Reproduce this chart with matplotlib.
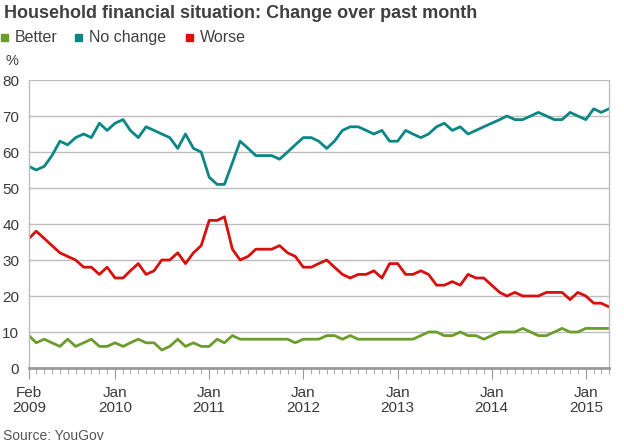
#!/usr/bin/env python3
"""Household financial situation: change over past month (YouGov)."""

import pandas as pd
import matplotlib
matplotlib.use("Agg")
import matplotlib.pyplot as plt
import matplotlib.dates as mdates
from matplotlib.patches import Rectangle

plt.rcParams['font.family'] = ['Liberation Sans', 'DejaVu Sans']

months = pd.date_range('2009-02-01', periods=75, freq='MS')

better = [
    9, 7, 8, 7, 6, 8, 6, 7, 8, 6, 6, 7,
    6, 7, 8, 7, 7, 5, 6, 8, 6, 7, 6, 6,
    8, 7, 9, 8, 8, 8, 8, 8, 8, 8, 7, 8,
    8, 8, 9, 9, 8, 9, 8, 8, 8, 8, 8, 8,
    8, 8, 9, 10, 10, 9, 9, 10, 9, 9, 8, 9,
    10, 10, 10, 11, 10, 9, 9, 10, 11, 10, 10, 11,
    11, 11, 11,
]
no_change = [
    56, 55, 56, 59, 63, 62, 64, 65, 64, 68, 66, 68,
    69, 66, 64, 67, 66, 65, 64, 61, 65, 61, 60, 53,
    51, 51, 57, 63, 61, 59, 59, 59, 58, 60, 62, 64,
    64, 63, 61, 63, 66, 67, 67, 66, 65, 66, 63, 63,
    66, 65, 64, 65, 67, 68, 66, 67, 65, 66, 67, 68,
    69, 70, 69, 69, 70, 71, 70, 69, 69, 71, 70, 69,
    72, 71, 72,
]
worse = [
    36, 38, 36, 34, 32, 31, 30, 28, 28, 26, 28, 25,
    25, 27, 29, 26, 27, 30, 30, 32, 29, 32, 34, 41,
    41, 42, 33, 30, 31, 33, 33, 33, 34, 32, 31, 28,
    28, 29, 30, 28, 26, 25, 26, 26, 27, 25, 29, 29,
    26, 26, 27, 26, 23, 23, 24, 23, 26, 25, 25, 23,
    21, 20, 21, 20, 20, 20, 21, 21, 21, 19, 21, 20,
    18, 18, 17,
]

tick_dates = pd.to_datetime(['2009-02-01', '2010-01-01', '2011-01-01', '2012-01-01',
                             '2013-01-01', '2014-01-01', '2015-01-01'])
tick_labels = ['Feb\n2009', 'Jan\n2010', 'Jan\n2011', 'Jan\n2012',
               'Jan\n2013', 'Jan\n2014', 'Jan\n2015']

GREEN = '#6c9d2c'
TEAL = '#0a8686'
RED = '#d7100e'
GRID = '#bdbdbd'
TEXT = '#404040'

fig = plt.figure(figsize=(6.24, 4.44), dpi=100)
ax = fig.add_axes([29 / 624, 76 / 444, 580 / 624, 288 / 444])

ax.plot(months, better, color=GREEN, linewidth=2)
ax.plot(months, no_change, color=TEAL, linewidth=2)
ax.plot(months, worse, color=RED, linewidth=2)

ax.set_xlim(months[0], months[-1])
ax.set_ylim(0, 80)
ax.set_yticks(range(0, 81, 10))
ax.yaxis.grid(True, color=GRID, linewidth=1)
ax.set_axisbelow(True)

ax.set_xticks(tick_dates)
ax.set_xticklabels(tick_labels)
ax.xaxis.set_minor_locator(mdates.MonthLocator())

for side in ['left', 'right']:
    ax.spines[side].set_color(GRID)
    ax.spines[side].set_linewidth(1)
ax.spines['top'].set_visible(False)
ax.spines['bottom'].set_color('#9a9a9a')
ax.spines['bottom'].set_linewidth(2)

ax.tick_params(axis='y', length=0, labelsize=11, labelcolor='#3a3a3a', pad=7)
ax.tick_params(axis='x', which='major', length=8, color='#9a9a9a',
               labelsize=11, labelcolor='#3a3a3a', pad=5)
ax.tick_params(axis='x', which='minor', length=4, color='#9a9a9a')
for lab in ax.get_xticklabels():
    lab.set_linespacing(1.05)

# title, legend and notes
fig.text(4 / 624, 1 - 14 / 444, 'Household financial situation: Change over past month',
         fontsize=13, fontweight='bold', color=TEXT, va='center')

legend_items = [('Better', GREEN, 1), ('No change', TEAL, 75), ('Worse', RED, 186)]
for label, color, x in legend_items:
    fig.patches.append(Rectangle((x / 624, 1 - 41 / 444), 7 / 624, 7 / 444,
                                 transform=fig.transFigure, color=color))
    fig.text((x + 14) / 624, 1 - 37.5 / 444, label, fontsize=11.5,
             color=TEXT, va='center')

fig.text(5 / 624, 1 - 61 / 444, '%', fontsize=10.5, color=TEXT, va='center')
fig.text(3 / 624, 1 - 436 / 444, 'Source: YouGov', fontsize=10, color='#555555', va='center')

fig.savefig('out.png', dpi=100)
